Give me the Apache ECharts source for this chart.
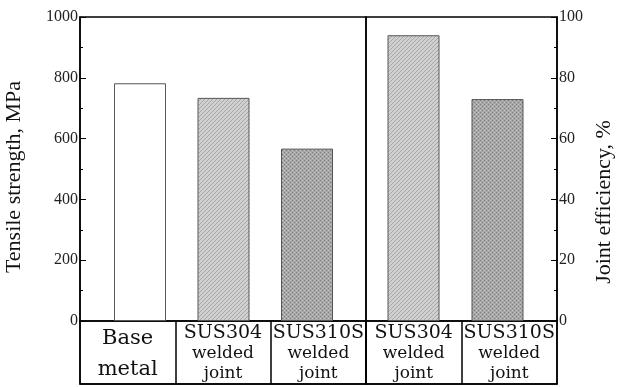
<!DOCTYPE html>
<html>
<head>
<meta charset="utf-8">
<script src="https://cdn.jsdelivr.net/npm/echarts@6/dist/echarts.min.js"></script>
<style>html,body{margin:0;padding:0;background:#fff}#c{width:624px;height:387px}</style>
</head>
<body>
<div id="c"></div>
<script>
// ---- data ----
const strengthCategories = ['Base\nmetal', 'SUS304\nwelded\njoint', 'SUS310S\nwelded\njoint'];
const tensileStrength = [782, 734, 567];
const efficiencyCategories = ['SUS304\nwelded\njoint', 'SUS310S\nwelded\njoint'];
const jointEfficiency = [94, 73];
const strengthTicks = [0, 200, 400, 600, 800, 1000];
const efficiencyTicks = [0, 20, 40, 60, 80, 100];

function makePattern(kind) {
  const c = document.createElement('canvas');
  c.width = 4; c.height = 4;
  const g = c.getContext('2d');
  if (kind === 'hatch') {
    g.fillStyle = '#d0d0d0'; g.fillRect(0, 0, 4, 4);
    g.fillStyle = '#a6a6a6';
    for (let i = 0; i < 4; i++) g.fillRect(3 - i, i, 1, 1);
  } else {
    g.fillStyle = '#a8a8a8'; g.fillRect(0, 0, 4, 4);
    g.fillStyle = '#7c7c7c';
    g.fillRect(0, 0, 1, 1); g.fillRect(2, 2, 1, 1);
    g.fillStyle = '#c2c2c2';
    g.fillRect(2, 0, 1, 1); g.fillRect(0, 2, 1, 1);
  }
  return { image: c, repeat: 'repeat' };
}
const fills = ['#ffffff', makePattern('hatch'), makePattern('dots')];

const serif = '"Liberation Serif", "DejaVu Serif", serif';
const catFont = '"DejaVu Serif", serif';

function catLabel(v) {
  const p = v.split('\n');
  if (p.length === 2) return '{b|' + p[0] + '}\n{b|' + p[1] + '}';
  return '{a|' + p[0] + '}\n{c|' + p[1] + '}\n{c|' + p[2] + '}';
}
const catLabelStyle = {
  show: true, inside: true, margin: 2, color: '#111', formatter: catLabel, interval: 0,
  rich: {
    a: { fontFamily: catFont, fontSize: 19, lineHeight: 21, color: '#111' },
    b: { fontFamily: catFont, fontSize: 21, lineHeight: 31, color: '#111' },
    c: { fontFamily: catFont, fontSize: 17, lineHeight: 20, color: '#111' }
  }
};
const blackLine = { show: true, lineStyle: { color: '#000', width: 1.5 } };
const border = { show: true, borderColor: '#000', borderWidth: 1.5, backgroundColor: 'transparent' };

function valueAxisStyle(extra) {
  return Object.assign({
    type: 'value', axisLine: blackLine, splitLine: { show: false },
    axisTick: { show: true, inside: true, length: 6, lineStyle: { color: '#000', width: 1 } },
    minorTick: { show: true, splitNumber: 2, length: 3, lineStyle: { color: '#000', width: 1 } },
    axisLabel: { margin: 2, fontFamily: serif, fontSize: 16, color: '#222', formatter: v => String(v) }
  }, extra);
}

const chart = echarts.init(document.getElementById('c'));
chart.setOption({
  animation: false,
  grid: [
    // 0,1: frames of the two plot panels
    Object.assign({ left: 80, top: 17, width: 286, height: 304 }, border),
    Object.assign({ left: 366, top: 17, width: 191, height: 304 }, border),
    // 2,3: bar areas
    { left: 98.25, top: 17, width: 250.5, height: 304, show: false },
    { left: 371.5, top: 17, width: 168, height: 304, show: false },
    // 4,5: label table
    Object.assign({ left: 80, top: 321, width: 286, height: 63 }, border),
    Object.assign({ left: 366, top: 321, width: 191, height: 63 }, border)
  ],
  xAxis: [
    { type: 'category', gridIndex: 0, data: strengthCategories, show: false },
    { type: 'category', gridIndex: 1, data: efficiencyCategories, show: false },
    { type: 'category', gridIndex: 2, data: strengthCategories, axisLine: { show: false }, axisTick: { show: false }, axisLabel: { show: false } },
    { type: 'category', gridIndex: 3, data: efficiencyCategories, axisLine: { show: false }, axisTick: { show: false }, axisLabel: { show: false } },
    { type: 'category', gridIndex: 4, data: strengthCategories, position: 'top', axisLine: blackLine, axisTick: { show: false },
      axisLabel: catLabelStyle, splitLine: { show: true, interval: 0, lineStyle: { color: '#000', width: 1.5 } } },
    { type: 'category', gridIndex: 5, data: efficiencyCategories, position: 'top', axisLine: blackLine, axisTick: { show: false },
      axisLabel: catLabelStyle, splitLine: { show: true, interval: 0, lineStyle: { color: '#000', width: 1.5 } } }
  ],
  yAxis: [
    { type: 'value', gridIndex: 0, show: false },
    { type: 'value', gridIndex: 1, show: false },
    valueAxisStyle({ gridIndex: 2, min: strengthTicks[0], max: strengthTicks[strengthTicks.length - 1], interval: 200, position: 'left', offset: 18.25 }),
    valueAxisStyle({ gridIndex: 3, min: efficiencyTicks[0], max: efficiencyTicks[efficiencyTicks.length - 1], interval: 20, position: 'right', offset: 17.5 }),
    { type: 'value', gridIndex: 4, show: false },
    { type: 'value', gridIndex: 5, show: false }
  ],
  series: [
    { type: 'bar', xAxisIndex: 2, yAxisIndex: 2, barWidth: 52,
      data: tensileStrength.map((v, i) => ({ value: v, itemStyle: { color: fills[i], borderColor: '#555', borderWidth: 1 } })) },
    { type: 'bar', xAxisIndex: 3, yAxisIndex: 3, barWidth: 52,
      data: jointEfficiency.map((v, i) => ({ value: v, itemStyle: { color: fills[i + 1], borderColor: '#555', borderWidth: 1 } })) }
  ],
  graphic: [
    { type: 'text', x: 14, y: 177, rotation: Math.PI / 2,
      style: { text: 'Tensile strength, MPa', fontFamily: serif, fontSize: 22, fill: '#111', textAlign: 'center', textVerticalAlign: 'middle' } },
    { type: 'text', x: 604, y: 202, rotation: Math.PI / 2,
      style: { text: 'Joint efficiency, %', fontFamily: serif, fontSize: 22, fill: '#111', textAlign: 'center', textVerticalAlign: 'middle' } }
  ]
});
</script>
</body>
</html>
